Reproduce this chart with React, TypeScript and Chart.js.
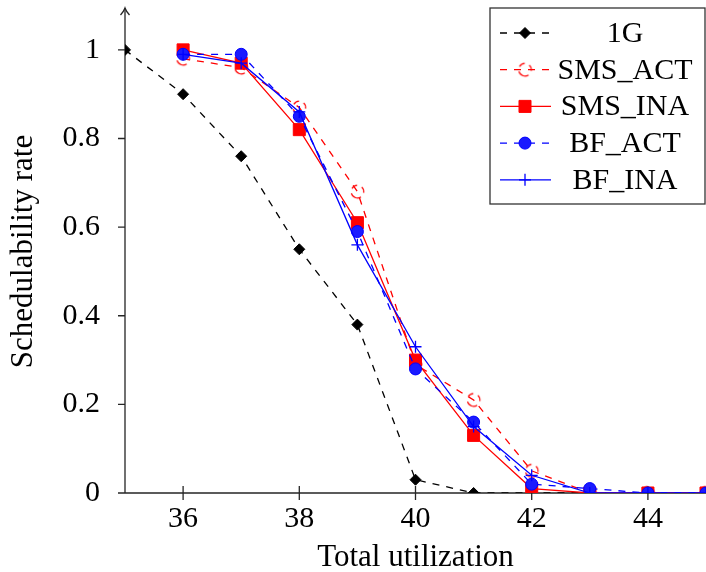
import React, { useEffect, useRef } from "react";
import { Chart, registerables } from "chart.js";
import { drawPoint } from "chart.js/helpers";

Chart.register(...registerables);

// ---- data ----
const xAll = [35, 36, 37, 38, 39, 40, 41, 42, 43, 44, 45];
const xFrom36 = [36, 37, 38, 39, 40, 41, 42, 43, 44, 45];
const values1G = [1.0, 0.9, 0.76, 0.55, 0.38, 0.03, 0, 0, 0, 0, 0];
const valuesSmsAct = [0.98, 0.96, 0.87, 0.68, 0.29, 0.21, 0.05, 0, 0, 0];
const valuesSmsIna = [1.0, 0.97, 0.82, 0.61, 0.3, 0.13, 0.01, 0, 0, 0];
const valuesBfAct = [0.99, 0.99, 0.85, 0.59, 0.28, 0.16, 0.02, 0.01, 0, 0];
const valuesBfIna = [0.99, 0.97, 0.86, 0.56, 0.33, 0.15, 0.04, 0, 0, 0];
const seriesLabels = ["1G", "SMS_ACT", "SMS_INA", "BF_ACT", "BF_INA"];
const xTickValues = [36, 38, 40, 42, 44];
const xTickLabels = ["36", "38", "40", "42", "44"];
const yTickValues = [0, 0.2, 0.4, 0.6, 0.8, 1];
const yTickLabels = ["0", "0.2", "0.4", "0.6", "0.8", "1"];
const xTitle = "Total utilization";
const yTitle = "Schedulability rate";

const SERIF = "'Liberation Serif', 'Times New Roman', serif";
const AXIS_COLOR = "#262626";

function makeDashedCircle(color: string, r: number, lw: number) {
  const c = document.createElement("canvas");
  const s = Math.ceil(2 * r + lw * 2 + 2);
  c.width = s;
  c.height = s;
  const g = c.getContext("2d")!;
  g.strokeStyle = color;
  g.lineWidth = lw;
  g.setLineDash([6, 5]);
  g.beginPath();
  g.arc(s / 2, s / 2, r, Math.PI * 0.6, Math.PI * 2.6);
  g.stroke();
  return c;
}

const axesPlugin = {
  id: "texAxes",
  beforeDatasetsDraw(chart: any) {
    const { ctx, chartArea, scales } = chart;
    const x = scales.x;
    const y = scales.y;
    const y0 = y.getPixelForValue(0);
    const left = chartArea.left;
    ctx.save();
    ctx.strokeStyle = AXIS_COLOR;
    ctx.fillStyle = AXIS_COLOR;
    ctx.lineWidth = 1.3;
    ctx.setLineDash([]);
    ctx.beginPath();
    ctx.moveTo(left, y0);
    ctx.lineTo(chartArea.right + 20, y0);
    ctx.moveTo(left, y0);
    ctx.lineTo(left, chartArea.top - 2);
    ctx.stroke();
    const tipY = chartArea.top - 2;
    ctx.beginPath();
    ctx.moveTo(left - 4.5, tipY + 7);
    ctx.quadraticCurveTo(left - 1, tipY + 3, left, tipY);
    ctx.quadraticCurveTo(left + 1, tipY + 3, left + 4.5, tipY + 7);
    ctx.stroke();
    ctx.beginPath();
    xTickValues.forEach((v) => {
      const px = x.getPixelForValue(v);
      ctx.moveTo(px, y0 - 7);
      ctx.lineTo(px, y0 + 7);
    });
    yTickValues.forEach((v) => {
      const py = y.getPixelForValue(v);
      ctx.moveTo(left - 7, py);
      ctx.lineTo(left, py);
    });
    ctx.stroke();
    ctx.restore();
  },
};

const legendPlugin = {
  id: "texLegend",
  afterDraw(chart: any) {
    const { ctx, chartArea } = chart;
    const right = chartArea.right - 1;
    const top = chartArea.top - 2;
    const width = 215;
    const height = 196;
    const left = right - width;
    ctx.save();
    ctx.fillStyle = "#ffffff";
    ctx.fillRect(left, top, width, height);
    ctx.strokeStyle = "#333333";
    ctx.lineWidth = 1.3;
    ctx.setLineDash([]);
    ctx.strokeRect(left, top, width, height);
    chart.data.datasets.forEach((ds: any, i: number) => {
      const rowY = top + 25 + i * 36.7;
      ctx.save();
      ctx.strokeStyle = ds.borderColor;
      ctx.lineWidth = ds.borderWidth;
      ctx.setLineDash(ds.borderDash || []);
      ctx.beginPath();
      ctx.moveTo(left + 10, rowY);
      ctx.lineTo(left + 61, rowY);
      ctx.stroke();
      ctx.setLineDash([]);
      ctx.strokeStyle = ds.pointBorderColor || ds.borderColor;
      ctx.fillStyle = ds.pointBackgroundColor || ds.backgroundColor;
      ctx.lineWidth = ds.pointBorderWidth ?? 1;
      drawPoint(ctx, { pointStyle: ds.pointStyle, radius: ds.pointRadius, rotation: 0, borderWidth: ds.pointBorderWidth ?? 1 } as any, left + 35, rowY);
      ctx.restore();
      ctx.fillStyle = "#000000";
      ctx.font = `30px ${SERIF}`;
      ctx.textAlign = "center";
      ctx.textBaseline = "middle";
      ctx.fillText(ds.label, left + 135, rowY + 1);
    });
    ctx.restore();
  },
};

export default function App() {
  const ref = useRef<HTMLCanvasElement>(null);
  useEffect(() => {
    const canvas = ref.current!;
    const dashedCircle = makeDashedCircle("#ff0000", 6.3, 1.2);
    const toPts = (xs: number[], ys: number[]) => xs.map((x, i) => ({ x, y: ys[i] }));
    const chart = new Chart(canvas, {
      type: "line",
      data: {
        datasets: [
          {
            label: seriesLabels[0],
            data: toPts(xAll, values1G),
            borderColor: "#000000",
            backgroundColor: "#000000",
            borderWidth: 1.3,
            borderDash: [7, 7],
            pointStyle: "rectRot",
            pointRadius: 5.5,
            pointBorderWidth: 1,
            order: 4,
          },
          {
            label: seriesLabels[1],
            data: toPts(xFrom36, valuesSmsAct),
            borderColor: "#ff0000",
            backgroundColor: "#ff0000",
            borderWidth: 1.3,
            borderDash: [7, 7],
            pointStyle: dashedCircle,
            pointRadius: 7,
            pointBorderWidth: 1,
            order: 3,
          },
          {
            label: seriesLabels[2],
            data: toPts(xFrom36, valuesSmsIna),
            borderColor: "#ff0000",
            backgroundColor: "#ff0000",
            borderWidth: 1.3,
            pointStyle: "rect",
            pointRadius: 8.5,
            pointBorderWidth: 1,
            order: 2,
          },
          {
            label: seriesLabels[3],
            data: toPts(xFrom36, valuesBfAct),
            borderColor: "#0000ff",
            backgroundColor: "#1a1aff",
            borderWidth: 1.3,
            borderDash: [7, 7],
            pointStyle: "circle",
            pointRadius: 6,
            pointBorderWidth: 1,
            order: 1,
          },
          {
            label: seriesLabels[4],
            data: toPts(xFrom36, valuesBfIna),
            borderColor: "#0000ff",
            backgroundColor: "#0000ff",
            borderWidth: 1.3,
            pointStyle: "cross",
            pointRadius: 6,
            pointBorderWidth: 1.3,
            order: 0,
          },
        ] as any,
      },
      options: {
        animation: false,
        responsive: false,
        devicePixelRatio: 1,
        layout: { autoPadding: false, padding: { top: 10, right: 0, left: 0, bottom: 0 } },
        plugins: { legend: { display: false }, tooltip: { enabled: false } },
        elements: { line: { tension: 0 } },
        scales: {
          x: {
            type: "linear",
            min: 35,
            max: 45,
            grid: { display: false },
            border: { display: false },
            afterBuildTicks: (s: any) => {
              s.ticks = xTickValues.map((v) => ({ value: v }));
            },
            afterFit: (s: any) => {
              s.height = 79;
              s.paddingLeft = 0;
              s.paddingRight = 0;
            },
            ticks: {
              autoSkip: false,
              maxRotation: 0,
              padding: 0,
              color: "#000000",
              font: { family: SERIF, size: 30 },
              callback: (_v: any, i: number) => xTickLabels[i],
            },
            title: {
              display: true,
              text: xTitle,
              color: "#000000",
              font: { family: SERIF, size: 31, lineHeight: 0.9 },
              padding: { top: 0, bottom: 0 },
            },
          },
          y: {
            type: "linear",
            min: 0,
            max: 1.09,
            grid: { display: false },
            border: { display: false },
            afterBuildTicks: (s: any) => {
              s.ticks = yTickValues.map((v) => ({ value: v }));
            },
            afterFit: (s: any) => {
              s.width = 125;
              s.paddingTop = 0;
              s.paddingBottom = 0;
            },
            ticks: {
              autoSkip: false,
              padding: 17,
              color: "#000000",
              font: { family: SERIF, size: 30 },
              callback: (_v: any, i: number) => yTickLabels[i],
            },
            title: {
              display: true,
              text: yTitle,
              color: "#000000",
              font: { family: SERIF, size: 31, lineHeight: 0.9 },
              padding: { top: 10, bottom: 0 },
            },
          },
        },
      } as any,
      plugins: [axesPlugin, legendPlugin],
    });
    return () => chart.destroy();
  }, []);
  return (
    <div style={{ position: "fixed", left: 0, top: 0, width: 706, height: 572, background: "#ffffff" }}>
      <canvas ref={ref} width={706} height={572} style={{ display: "block" }} />
    </div>
  );
}
